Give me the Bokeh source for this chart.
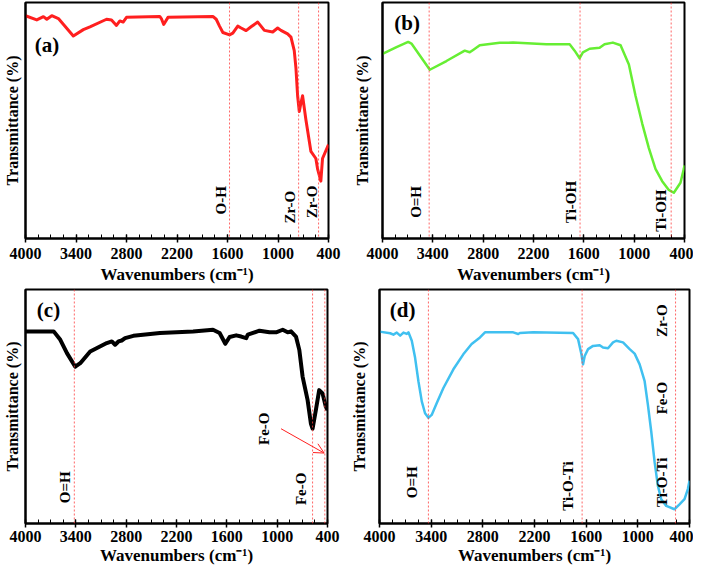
import math
from bokeh.plotting import figure
from bokeh.models import Range1d, FixedTicker, Span, Arrow, OpenHead, ColumnDataSource
from bokeh.layouts import column, row
from bokeh.embed import file_html
from bokeh.resources import INLINE
from bokeh.core.properties import value

# ---------------- data ----------------
major_ticks = [4000, 3400, 2800, 2200, 1600, 1000, 400]
minor_ticks = list(range(400, 4001, 150))

a_wn = [4000, 3866, 3787, 3747, 3688, 3609, 3432, 3313, 3234, 3037, 2978, 2919, 2879, 2840, 2800,
        2405, 2386, 2358, 2307, 1774, 1734, 1695, 1655, 1576, 1537, 1478, 1438, 1379, 1320, 1241,
        1202, 1162, 1063, 1004, 965, 886, 846, 807, 787, 767, 747, 727, 708, 668, 609, 550, 530,
        491, 471, 400]
a_t = [94.4, 92.6, 94.0, 92.9, 94.4, 93.2, 85.8, 88.5, 89.7, 92.9, 92.6, 90.3, 92.2, 91.7, 93.7,
       94.1, 93.2, 90.7, 93.7, 94.1, 92.9, 90.0, 87.3, 86.3, 87.0, 90.0, 89.2, 88.1, 89.7, 91.7,
       90.0, 88.2, 87.5, 89.2, 88.2, 86.7, 85.3, 79.6, 72.3, 60.5, 53.8, 57.5, 60.5, 50.2, 36.9,
       33.9, 29.5, 24.3, 33.9, 39.8]
a_peaks = [1576, 755, 518]
a_labels = ["O-H", "Zr-O", "Zr-O"]
a_lab_x = [1675, 858, 601]
a_lab_y = [16.2, 13.3, 15.5]

b_wn = [4000, 3833, 3694, 3655, 3436, 3238, 3020, 2960, 2920, 2841, 2603, 2444, 2047, 1769, 1710,
        1650, 1611, 1531, 1412, 1353, 1254, 1162, 1063, 984, 904, 825, 746, 666, 587, 527, 448,
        408, 400]
b_t = [78.2, 81.1, 83.3, 82.6, 71.5, 75.2, 79.6, 78.9, 79.9, 81.9, 82.9, 83.0, 82.3, 82.3, 79.6,
       76.4, 78.9, 80.4, 80.8, 82.3, 83.0, 81.9, 73.7, 60.5, 48.7, 38.3, 29.5, 24.3, 20.6, 19.4,
       23.6, 29.5, 31.0]
b_peaks = [3444, 1645, 559]
b_labels = ["O=H", "Ti-OH", "Ti-OH"]
b_lab_x = [3595, 1757, 678]
b_lab_y = [15.5, 15.5, 11.8]

c_wn = [4000, 3664, 3585, 3506, 3407, 3347, 3229, 3031, 2971, 2932, 2892, 2853, 2813, 2714, 2398,
        2002, 1765, 1686, 1618, 1567, 1488, 1429, 1369, 1350, 1211, 1092, 1013, 934, 875, 835,
        776, 736, 697, 637, 598, 578, 539, 499, 459, 420, 400]
c_t = [82.1, 82.1, 78.5, 72.8, 67.0, 68.5, 73.5, 77.1, 77.8, 76.4, 77.8, 78.2, 79.2, 80.2, 81.4,
       82.1, 82.8, 81.4, 76.8, 79.7, 80.4, 79.9, 79.2, 80.7, 82.4, 81.7, 81.7, 82.8, 81.7, 82.1,
       79.9, 74.2, 62.8, 52.7, 42.7, 40.5, 48.4, 57.0, 55.6, 49.9, 48.4]
c_peaks = [3418, 578, 432]
c_labels = ["O=H", "Fe-O", "Fe-O"]
c_lab_x = [3525, 1152, 717]
c_lab_y = [15.5, 40.5, 14.8]
c_arrow = [954, 40.5, 440, 30.1]

d_wn = [4000, 3876, 3838, 3799, 3760, 3722, 3683, 3664, 3625, 3587, 3548, 3509, 3471, 3432, 3394,
        3336, 3258, 3142, 3027, 2930, 2833, 2775, 2447, 2389, 2370, 2215, 1752, 1694, 1655, 1636,
        1617, 1578, 1520, 1443, 1404, 1346, 1288, 1250, 1172, 1095, 1037, 979, 921, 883, 844,
        805, 767, 728, 670, 574, 516, 458, 419, 400]
d_t = [82.0, 81.3, 80.7, 81.6, 80.3, 81.6, 81.0, 81.7, 78.1, 70.9, 60.8, 52.2, 47.1, 45.2, 46.4,
       51.4, 57.9, 65.9, 72.3, 76.7, 79.5, 81.7, 81.7, 81.0, 81.4, 81.7, 81.4, 78.8, 72.3, 68.0,
       71.6, 74.5, 75.9, 76.2, 75.2, 74.9, 77.4, 78.1, 77.4, 74.5, 72.6, 68.0, 60.8, 50.7, 39.2,
       26.2, 16.1, 10.4, 7.5, 6.1, 8.2, 10.4, 14.7, 18.3]
d_peaks = [3432, 1647, 562]
d_labels = ["O=H", "Ti-O-Ti", "Zr-O", "Fe-O", "Ti-O-Ti"]
d_lab_x = [3625, 1810, 716, 716, 716]
d_lab_y = [17.6, 16.0, 86.7, 53.6, 17.6]

FONT = "Liberation Serif"


def panel(letter, wn, t, color, lw, peaks, labels, lab_x, lab_y, letter_x, letter_y,
          width, height, left, right, top, ylab_standoff, tick_standoff, title_standoff):
    p = figure(width=width, height=height, output_backend="svg", toolbar_location=None,
               x_range=Range1d(4000, 400), y_range=Range1d(0, 100),
               min_border_left=left, min_border_right=right, min_border_top=top,
               min_border_bottom=0, background_fill_color="white",
               border_fill_color="white")
    p.xgrid.visible = False
    p.ygrid.visible = False
    p.outline_line_color = "black"
    p.outline_line_width = 2
    p.outline_line_alpha = 1

    xa = p.xaxis[0]
    xa.ticker = FixedTicker(ticks=major_ticks, minor_ticks=minor_ticks)
    xa.axis_line_width = 2
    xa.major_tick_in = 4
    xa.major_tick_out = 4
    xa.minor_tick_in = 4
    xa.minor_tick_out = 0
    xa.major_tick_line_width = 1.5
    xa.minor_tick_line_width = 1
    xa.major_label_text_font = FONT
    xa.major_label_text_font_style = "bold"
    xa.major_label_text_font_size = "16px"
    xa.major_label_text_color = "black"
    xa.major_label_standoff = tick_standoff
    xa.axis_label = "Wavenumbers (cm⁻¹)"
    xa.axis_label_text_font = FONT
    xa.axis_label_text_font_style = "bold"
    xa.axis_label_text_font_size = "17px"
    xa.axis_label_text_color = "black"
    xa.axis_label_standoff = title_standoff

    ya = p.yaxis[0]
    ya.ticker = FixedTicker(ticks=[], minor_ticks=[])
    ya.axis_line_width = 2
    ya.major_tick_out = 0
    ya.major_tick_in = 0
    ya.minor_tick_out = 0
    ya.minor_tick_in = 0
    ya.major_label_standoff = 0
    ya.axis_label = "Transmittance (%)"
    ya.axis_label_text_font = FONT
    ya.axis_label_text_font_style = "bold"
    ya.axis_label_text_font_size = "16px"
    ya.axis_label_text_color = "black"
    ya.axis_label_standoff = ylab_standoff

    for pk in peaks:
        p.add_layout(Span(location=pk, dimension="height", line_color="#FF4040",
                          line_width=1, line_dash="2 2", line_alpha=0.8))

    p.line(wn, t, line_color=color, line_width=lw, line_join="round")

    src = ColumnDataSource(dict(x=lab_x, y=lab_y, text=labels))
    p.text(x="x", y="y", text="text", source=src, angle=math.pi / 2,
           text_font=value(FONT), text_font_style="bold", text_font_size="15px",
           text_align="center", text_baseline="middle", text_color="black")
    p.text(x=[letter_x], y=[letter_y], text=[letter], text_font=value(FONT),
           text_font_style="bold", text_font_size="21px", text_align="left",
           text_baseline="middle", text_color="black")
    return p


pa = panel("(a)", a_wn, a_t, "#FF1F1F", 3, a_peaks, a_labels, a_lab_x, a_lab_y, 3890, 82,
           350, 286, 24, 22, 2, 5, 5, 3)
pb = panel("(b)", b_wn, b_t, "#66EE33", 2.5, b_peaks, b_labels, b_lab_x, b_lab_y, 3860, 91.5,
           343, 286, 32, 9, 2, 12, 5, 3)
pc = panel("(c)", c_wn, c_t, "black", 4, c_peaks, c_labels, c_lab_x, c_lab_y, 3865, 91.4,
           347, 281, 24, 20, 3, 5, 3, 1)
pd = panel("(d)", d_wn, d_t, "#40C0F0", 2.5, d_peaks, d_labels, d_lab_x, d_lab_y, 3880, 91.4,
           346, 281, 32, 4, 3, 12, 3, 1)

pc.add_layout(Arrow(x_start=c_arrow[0], y_start=c_arrow[1], x_end=c_arrow[2], y_end=c_arrow[3],
                    line_color="#FF2020", line_width=1,
                    end=OpenHead(size=10, line_color="#FF2020", line_width=1)))

layout = column(row(pa, pb), row(pc, pd))
open("out.html", "w").write(file_html(layout, INLINE))
